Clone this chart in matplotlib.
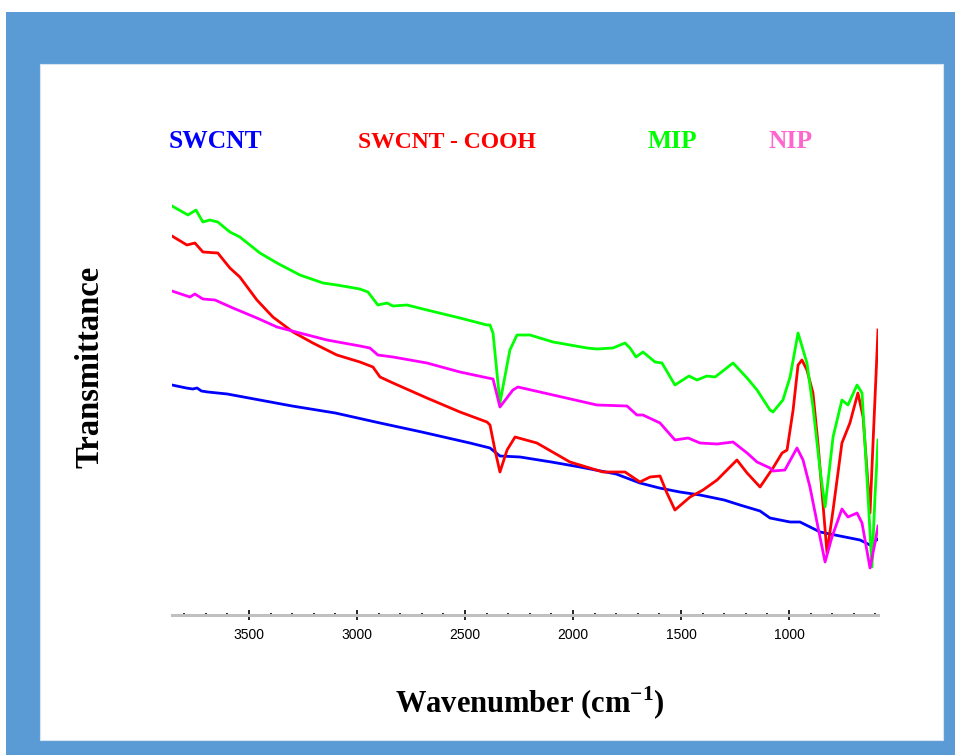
import matplotlib
matplotlib.use("Agg")
import matplotlib.pyplot as plt
from matplotlib.patches import Rectangle

plt.rcParams["mathtext.fontset"] = "custom"
plt.rcParams["mathtext.bf"] = "Liberation Serif:bold"
plt.rcParams["mathtext.rm"] = "Liberation Serif:bold"

# ---------------- data (wavenumber cm-1, transmittance a.u.) ----------------
swcnt_wn = [3856, 3790, 3760, 3740, 3720, 3690, 3600, 3450, 3300, 3100, 2893, 2700, 2477, 2384,
            2338, 2245, 2100, 1968, 1800, 1690, 1600, 1505, 1412, 1300, 1227, 1134, 1088, 995,
            949, 856, 764, 671, 625, 588]
swcnt_t = [230, 227, 226, 227, 224, 223, 221, 215, 209, 202, 192, 183, 172, 167,
           159, 158, 153, 148, 141, 132, 127, 123, 120, 115, 110, 104, 97, 93,
           93, 83, 79, 75, 70, 76]

cooh_wn = [3856, 3787, 3750, 3713, 3644, 3588, 3542, 3463, 3389, 3296, 3204, 3093, 2986, 2926,
           2893, 2833, 2676, 2523, 2398, 2384, 2361, 2338, 2305, 2268, 2167, 2014, 1861, 1759,
           1690, 1643, 1597, 1565, 1528, 1458, 1398, 1333, 1241, 1194, 1134, 1074, 1032, 1009,
           981, 958, 940, 917, 889, 866, 824, 796, 755, 718, 681, 657, 639, 625, 611, 588]
cooh_t = [379, 370, 372, 363, 362, 347, 338, 315, 298, 283, 272, 260, 253, 248,
          238, 232, 217, 203, 193, 190, 165, 143, 165, 178, 172, 153, 143, 143,
          133, 138, 139, 122, 105, 118, 125, 135, 155, 142, 128, 147, 162, 165,
          205, 250, 255, 245, 222, 172, 62, 105, 172, 192, 222, 198, 145, 102, 172, 285]

mip_wn = [3856, 3782, 3745, 3713, 3681, 3644, 3588, 3542, 3449, 3370, 3264, 3157, 3093, 2986,
          2949, 2903, 2861, 2833, 2768, 2676, 2523, 2398, 2384, 2370, 2338, 2292, 2259, 2199,
          2092, 1935, 1889, 1815, 1759, 1736, 1708, 1676, 1620, 1588, 1528, 1463, 1426, 1380,
          1342, 1259, 1194, 1148, 1088, 1074, 1028, 995, 958, 917, 889, 856, 833, 796, 755,
          727, 685, 662, 634, 616, 602, 588]
mip_t = [409, 400, 405, 393, 395, 393, 383, 378, 362, 352, 340, 332, 330, 326,
         323, 310, 312, 309, 310, 305, 297, 290, 290, 282, 212, 265, 280, 280,
         273, 267, 266, 267, 272, 267, 258, 263, 253, 252, 230, 239, 235, 239,
         238, 252, 237, 225, 205, 203, 215, 238, 282, 252, 208, 145, 108, 178, 215,
         210, 230, 222, 118, 48, 118, 175]

nip_wn = [3856, 3773, 3750, 3713, 3657, 3574, 3463, 3370, 3264, 3139, 2986, 2940, 2903, 2833,
          2676, 2523, 2393, 2370, 2338, 2278, 2255, 2092, 1889, 1750, 1704, 1676, 1597, 1528,
          1467, 1412, 1333, 1259, 1194, 1148, 1088, 1074, 1019, 963, 935, 903, 866, 833, 801,
          755, 727, 685, 662, 625, 602, 588]
nip_t = [324, 318, 321, 316, 315, 307, 297, 288, 282, 275, 269, 267, 260, 258,
         252, 243, 237, 236, 208, 225, 228, 220, 210, 209, 200, 200, 192, 175,
         177, 172, 171, 173, 162, 153, 147, 144, 145, 167, 155, 128, 88, 53, 78,
         106, 98, 102, 92, 47, 72, 89]

xticks = [3500, 3000, 2500, 2000, 1500, 1000]

# ---------------- figure ----------------
W, H = 955, 755
fig = plt.figure(figsize=(W / 100, H / 100), dpi=100)
fig.patch.set_facecolor("white")

def px(x, y):
    return x / W, 1 - y / H

fig.patches.append(Rectangle(px(6, 755), (955 - 6) / W, (755 - 12) / H,
                             transform=fig.transFigure, facecolor="#5B9BD5",
                             edgecolor="none", zorder=-2))
fig.patches.append(Rectangle(px(40, 740), (943 - 40) / W, (740 - 64) / H,
                             transform=fig.transFigure, facecolor="white",
                             edgecolor="#d8e4f0", linewidth=0.8, zorder=-1))

ax_l, ax_r, ax_b, ax_t = 172, 878, 615, 180
ax = fig.add_axes([ax_l / W, 1 - ax_b / H, (ax_r - ax_l) / W, (ax_b - ax_t) / H])
ax.set_zorder(3)
ax.set_facecolor("none")

lw = 2.0
ax.plot(swcnt_wn, swcnt_t, color="#0000FF", lw=lw)
ax.plot(cooh_wn, cooh_t, color="#FF0000", lw=lw)
ax.plot(mip_wn, mip_t, color="#00FF00", lw=lw)
ax.plot(nip_wn, nip_t, color="#FF00FF", lw=lw)

ax.set_xlim(3856, 588)
ax.set_ylim(0, 435)
for s in ("top", "right", "left"):
    ax.spines[s].set_visible(False)
ax.spines["bottom"].set_color("#c0c0c0")
ax.spines["bottom"].set_linewidth(2.2)
ax.set_yticks([])
ax.set_xticks(xticks)
ax.set_xticks(list(range(3800, 599, -100)), minor=True)
ax.tick_params(axis="x", which="major", direction="inout", length=7, width=1.2,
               color="black", labelsize=10, pad=6)
ax.tick_params(axis="x", which="minor", direction="inout", length=3, width=1.2,
               color="black")
for lab in ax.get_xticklabels():
    lab.set_fontfamily("Liberation Sans")

serif = "Liberation Serif"
fig.text(*px(90, 367), "Transmittance", rotation=90, ha="center", va="center",
         fontsize=23.5, fontweight="bold", fontfamily=serif)
fig.text(*px(530, 703), "Wavenumber (cm$^{\\mathbf{-1}}$)", ha="center", va="center",
         fontsize=22, fontweight="bold", fontfamily=serif)

for txt, cx, cy, fs, col in [("SWCNT", 215, 141, 18.4, "#0000FF"),
                             ("SWCNT - COOH", 447, 142, 17.0, "#FF0000"),
                             ("MIP", 672, 141, 18.4, "#00FF00"),
                             ("NIP", 791, 141, 18.4, "#FF66CC")]:
    fig.text(*px(cx, cy), txt, ha="center", va="center", fontsize=fs,
             fontweight="bold", fontfamily=serif, color=col)

fig.savefig("out.png", dpi=100)
